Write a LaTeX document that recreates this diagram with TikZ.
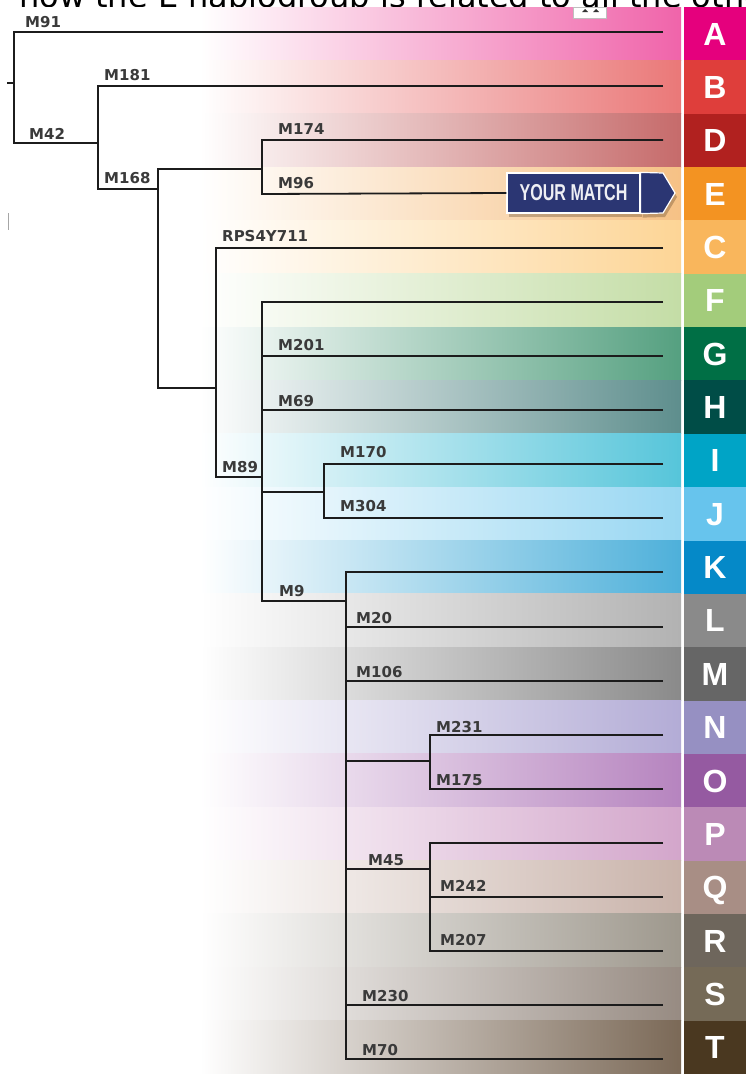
\documentclass[tikz,border=0pt]{standalone}
\usepackage{fontspec}
\usetikzlibrary{shadows}
\newfontfamily\labfont{DejaVu Sans}
\newfontfamily\stripfont{Liberation Sans}
\definecolor{linecol}{HTML}{1C1C1C}
\definecolor{labcol}{HTML}{3A3A3A}
\definecolor{navy}{HTML}{2B3673}
% band (gradient end) colours
\definecolor{bandA}{HTML}{F064AA}\definecolor{boxA}{HTML}{E5007D}
\definecolor{bandB}{HTML}{EA7878}\definecolor{boxB}{HTML}{DF3E3B}
\definecolor{bandD}{HTML}{C66B6B}\definecolor{boxD}{HTML}{B1211F}
\definecolor{bandE}{HTML}{F6C185}\definecolor{boxE}{HTML}{F39322}
\definecolor{bandC}{HTML}{FDD596}\definecolor{boxC}{HTML}{F9B65C}
\definecolor{bandF}{HTML}{C4DDA6}\definecolor{boxF}{HTML}{A3CC7B}
\definecolor{bandG}{HTML}{55A080}\definecolor{boxG}{HTML}{006F45}
\definecolor{bandH}{HTML}{5E8E8D}\definecolor{boxH}{HTML}{004D47}
\definecolor{bandI}{HTML}{56C5DA}\definecolor{boxI}{HTML}{00A4C6}
\definecolor{bandJ}{HTML}{98D7F2}\definecolor{boxJ}{HTML}{67C4ED}
\definecolor{bandK}{HTML}{4EB0DA}\definecolor{boxK}{HTML}{0589C8}
\definecolor{bandL}{HTML}{B2B2B2}\definecolor{boxL}{HTML}{8A8A8A}
\definecolor{bandM}{HTML}{8A8A8A}\definecolor{boxM}{HTML}{666666}
\definecolor{bandN}{HTML}{B3ACD6}\definecolor{boxN}{HTML}{9690C2}
\definecolor{bandO}{HTML}{B684BF}\definecolor{boxO}{HTML}{955AA1}
\definecolor{bandP}{HTML}{D3A6CB}\definecolor{boxP}{HTML}{BB8AB6}
\definecolor{bandQ}{HTML}{C9B3AA}\definecolor{boxQ}{HTML}{A88E85}
\definecolor{bandR}{HTML}{9E988D}\definecolor{boxR}{HTML}{6E665C}
\definecolor{bandS}{HTML}{978B82}\definecolor{boxS}{HTML}{756A57}
\definecolor{bandT}{HTML}{7B6957}\definecolor{boxT}{HTML}{4A3820}
\begin{document}
\begin{tikzpicture}[x=1pt,y=-1pt,
  branch/.style={draw=linecol,line width=1.8pt,line join=miter},
  mlabel/.style={anchor=base west,inner sep=0pt,text=labcol,
     font=\labfont\bfseries\fontsize{15}{15}\selectfont},
  letter/.style={anchor=base,inner sep=0pt,text=white,
     font=\stripfont\bfseries\fontsize{32}{32}\selectfont},
  header/.style={anchor=base west,inner sep=0pt,text=black,
     font=\labfont\fontsize{32}{32}\selectfont},
  matchbox/.style={fill=navy,draw=white,line width=1.2pt,minimum width=133pt,
     minimum height=40pt,inner sep=0pt,text=white!92!navy,
     font=\stripfont\bfseries\fontsize{23}{23}\selectfont,
     drop shadow={shadow xshift=2pt,shadow yshift=-4pt,opacity=0.3,fill=black!60!brown}},
  arrowpart/.style={fill=navy,draw=white,line width=1.2pt,line join=miter,
     drop shadow={shadow xshift=2pt,shadow yshift=-4pt,opacity=0.3,fill=black!60!brown}}
]
\path[use as bounding box] (0,0) rectangle (746,1074);
\clip (0,0) rectangle (746,1074);
\fill[white] (0,0) rectangle (746,1074);
% header (cut off at the top, as in the source)
\node[header] (head) at (19,7) {how the E haplogroup is related to all the other haplogroups};
\fill[white] (0,7) rectangle (746,1074);
% bands and strip
\foreach \L [count=\i from 0] in {A,B,D,E,C,F,G,H,I,J,K,L,M,N,O,P,Q,R,S,T}{
  \pgfmathsetmacro{\top}{7+53.35*\i}
  \pgfmathsetmacro{\bot}{7+53.35*(\i+1)}
  \pgfmathsetmacro{\mid}{7+53.35*\i+26.7+11.4}
  \shade[left color=white,right color=band\L] (200,\top) rectangle (681,\bot);
  \fill[box\L] (684,\top) rectangle (746,\bot);
  \node[letter] (let-\L) at (715,\mid) {\L};
}
% header icon
\fill[white] (573,7) rectangle (606,18);
\draw[black!25,line width=0.6pt] (573,7) rectangle (606,18);
\fill[black!80] (582,12) -- (585,9) -- (588,12) -- cycle;
\fill[black!80] (593,12) -- (596,9) -- (599,12) -- cycle;
% stray mark on left edge
\draw[black!35,line width=1pt] (8,213) -- (8,230);

% ---- tree coordinates ----
\foreach \L/\y in {A/32,B/86,D/140,E/194,C/248,F/302,G/356,H/410,I/464,J/518,
                   K/572,L/627,M/681,N/735,O/789,P/843,Q/897,R/951,S/1005,T/1059}{
  \coordinate (end-\L) at (663,\y);
}
\coordinate (rA) at (14,32);   \coordinate (r42) at (14,143);
\coordinate (stub) at (7,83);  \coordinate (rs) at (14,83);
\coordinate (n42) at (98,143); \coordinate (b0) at (98,86);
\coordinate (v98b) at (98,189);\coordinate (n168) at (158,189);
\coordinate (j168t) at (158,169); \coordinate (j168b) at (158,388);
\coordinate (n262a) at (262,169); \coordinate (n216) at (216,388);
\coordinate (d0) at (262,140); \coordinate (e0) at (262,194);
\coordinate (c0) at (216,248); \coordinate (m89) at (216,477);
\coordinate (n262b) at (262,477);
\coordinate (f0) at (262,302); \coordinate (g0) at (262,356);
\coordinate (h0) at (262,410); \coordinate (n262c) at (262,492);
\coordinate (n324) at (324,492);
\coordinate (i0) at (324,464); \coordinate (j0) at (324,518);
\coordinate (m9) at (262,601); \coordinate (n346) at (346,601);
\coordinate (k0) at (346,572); \coordinate (t0) at (346,1059);
\coordinate (l0) at (346,627); \coordinate (mm0) at (346,681);
\coordinate (s0) at (346,1005);
\coordinate (n761) at (346,761); \coordinate (n430a) at (430,761);
\coordinate (nn0) at (430,735); \coordinate (o0) at (430,789);
\coordinate (m45) at (346,869); \coordinate (n430b) at (430,869);
\coordinate (p0) at (430,843); \coordinate (q0) at (430,897);
\coordinate (r0) at (430,951);

% YOUR MATCH marker
\node[matchbox] (match) at (573.5,193) {\scalebox{0.7}[1]{YOUR MATCH}};
\filldraw[arrowpart] (match.north east) -- (663,173) -- (675,193) -- (663,213) -- (match.south east) -- cycle;

% ---- branches ----
\draw[branch] (end-A) -- (rA) -- (r42) -- (n42);
\draw[branch] (stub) -- (rs);
\draw[branch] (end-B) -- (b0) -- (v98b) -- (n168);
\draw[branch] (n262a) -- (j168t) -- (j168b) -- (n216);
\draw[branch] (end-D) -- (d0) -- (e0) -- (match.west);
\draw[branch] (end-C) -- (c0) -- (m89) -- (n262b);
\draw[branch] (end-F) -- (f0) -- (m9) -- (n346);
\draw[branch] (g0) -- (end-G);
\draw[branch] (h0) -- (end-H);
\draw[branch] (n262c) -- (n324);
\draw[branch] (end-I) -- (i0) -- (j0) -- (end-J);
\draw[branch] (end-K) -- (k0) -- (t0) -- (end-T);
\draw[branch] (l0) -- (end-L);
\draw[branch] (mm0) -- (end-M);
\draw[branch] (s0) -- (end-S);
\draw[branch] (n761) -- (n430a);
\draw[branch] (end-N) -- (nn0) -- (o0) -- (end-O);
\draw[branch] (m45) -- (n430b);
\draw[branch] (end-P) -- (p0) -- (r0) -- (end-R);
\draw[branch] (q0) -- (end-Q);

% ---- labels ----
\node[mlabel] (lM91) at (25,27) {M91};
\node[mlabel] (lM181) at (104,80) {M181};
\node[mlabel] (lM42) at (29,139) {M42};
\node[mlabel] (lM168) at (104,183) {M168};
\node[mlabel] (lM174) at (278,134) {M174};
\node[mlabel] (lM96) at (278,188) {M96};
\node[mlabel] (lRPS) at (222,241) {RPS4Y711};
\node[mlabel] (lM201) at (278,350) {M201};
\node[mlabel] (lM69) at (278,406) {M69};
\node[mlabel] (lM170) at (340,457) {M170};
\node[mlabel] (lM304) at (340,511) {M304};
\node[mlabel] (lM89) at (222,472) {M89};
\node[mlabel] (lM9) at (279,596) {M9};
\node[mlabel] (lM20) at (356,623) {M20};
\node[mlabel] (lM106) at (356,677) {M106};
\node[mlabel] (lM231) at (436,732) {M231};
\node[mlabel] (lM175) at (436,785) {M175};
\node[mlabel] (lM45) at (368,865) {M45};
\node[mlabel] (lM242) at (440,891) {M242};
\node[mlabel] (lM207) at (440,945) {M207};
\node[mlabel] (lM230) at (362,1001) {M230};
\node[mlabel] (lM70) at (362,1055) {M70};
\end{tikzpicture}
\end{document}
